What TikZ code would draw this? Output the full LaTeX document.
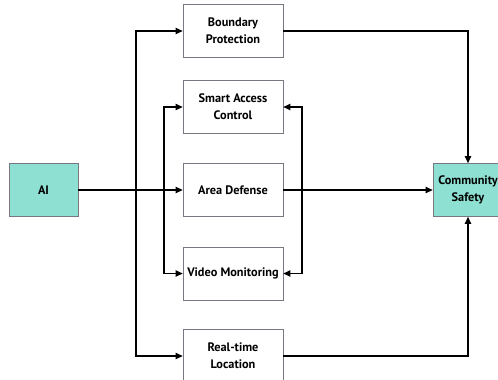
\documentclass[tikz,border=0pt]{standalone}
\usepackage{fontspec}
\setmainfont{PT Sans}
\usetikzlibrary{arrows.meta}
\definecolor{teal1}{RGB}{142,224,210}
\definecolor{bord}{RGB}{120,120,130}
\begin{document}
\begin{tikzpicture}[x=1pt,y=-1pt,
  box/.style={draw=bord,line width=0.8pt,fill=white,minimum width=100pt,minimum height=53pt,align=center,font=\bfseries\fontsize{12.3}{17}\selectfont,inner sep=1pt},
  gbox/.style={box,fill=teal1,minimum width=69pt},
  arr/.style={line width=1.1pt,-{Triangle[length=7pt,width=6.5pt]}}]
\useasboundingbox (0,0) rectangle (498,380);
\node[gbox] (AI) at (43.5,190) {AI};
\node[box] (BP) at (233,31) {Boundary\\Protection};
\node[box] (SAC) at (233,107) {Smart Access\\Control};
\node[box] (AD) at (233,190) {Area Defense};
\node[box] (VM) at (233,273.5) {Video Monitoring};
\node[box] (RL) at (233,356) {Real-time\\Location};
\node[gbox,minimum width=70pt] (CS) at (468,190) {Community\\Safety};
\coordinate (t1) at (136,190);
\coordinate (t2) at (164,190);
\coordinate (t3) at (302,190);
\draw[arr] (AI) -- (AD);
\draw[arr] (t1) |- (BP.west);
\draw[arr] (t1) |- (RL.west);
\draw[arr] (t2) |- (SAC.west);
\draw[arr] (t2) |- (VM.west);
\draw[arr] (t3) |- (SAC.east);
\draw[arr] (t3) |- (VM.east);
\draw[arr] (AD) -- (CS);
\draw[arr] (BP.east) -| (CS.north);
\draw[arr] (RL.east) -| (CS.south);
\end{tikzpicture}
\end{document}
